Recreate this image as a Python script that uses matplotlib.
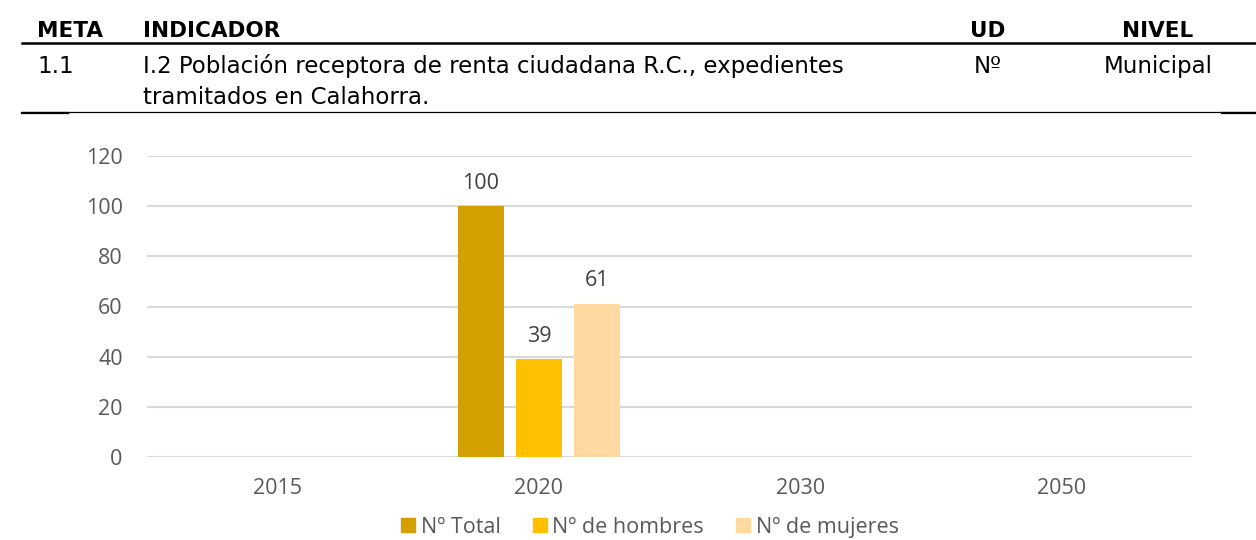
import matplotlib.pyplot as plt
from matplotlib.patches import Patch
import numpy as np

years = ["2015", "2020", "2030", "2050"]
series = ["Nº Total", "Nº de hombres", "Nº de mujeres"]
total = [np.nan, 100, np.nan, np.nan]
hombres = [np.nan, 39, np.nan, np.nan]
mujeres = [np.nan, 61, np.nan, np.nan]
colors = ["#D4A000", "#FFC000", "#FFD9A0"]

header = ["META", "INDICADOR", "UD", "NIVEL"]
row = ["1.1", "I.2 Población receptora de renta ciudadana R.C., expedientes\ntramitados en Calahorra.", "Nº", "Municipal"]

W, H = 1256, 540
fig = plt.figure(figsize=(W / 100, H / 100), dpi=100)

# header table, in pixel coords
def px(x, y):
    return x / W, 1 - y / H

hx = [37, 143, 988, 1158]
has = ["left", "left", "center", "center"]
for t, x, ha in zip(header, hx, has):
    fig.text(*px(x, 37), t, fontsize=15.5, fontweight="bold", ha=ha, va="baseline", color="black")
lines = row[1].split("\n")
fig.text(*px(37, 73), row[0], fontsize=16.5, ha="left", va="baseline")
fig.text(*px(143, 73), lines[0], fontsize=16.5, ha="left", va="baseline")
fig.text(*px(143, 104), lines[1], fontsize=16.5, ha="left", va="baseline")
fig.text(*px(988, 73), row[2], fontsize=16.5, ha="center", va="baseline")
fig.text(*px(1158, 73), row[3], fontsize=16.5, ha="center", va="baseline")

fig.add_artist(plt.Line2D([22 / W, 1], [1 - 43 / H] * 2, color="black", lw=1.8))
fig.add_artist(plt.Line2D([22 / W, 1], [1 - 112 / H] * 2, color="black", lw=0.9))
fig.add_artist(plt.Line2D([22 / W, 68 / W], [1 - 112.5 / H] * 2, color="black", lw=1.6))
fig.add_artist(plt.Line2D([1222 / W, 1], [1 - 112.5 / H] * 2, color="black", lw=1.6))

# chart
ax = fig.add_axes([147 / W, 1 - 457 / H, 1045 / W, 301 / H])
x = np.arange(len(years))
off = 0.222
width = 0.176
gray = "#595959"
for i, (vals, c) in enumerate(zip([total, hombres, mujeres], colors)):
    pos = x + (i - 1) * off
    ax.bar(pos, vals, width, color=c, zorder=3)
    for p, v in zip(pos, vals):
        if not np.isnan(v):
            ax.annotate(f"{v:.0f}", (p, v), xytext=(0, 9), textcoords="offset points",
                        ha="center", va="bottom", fontsize=15.5, color="#404040", family="Open Sans")

ax.set_xlim(-0.5, len(years) - 0.5)
ax.set_ylim(0, 120)
ax.set_yticks(range(0, 121, 20))
ax.set_xticks(x)
ax.set_xticklabels(years)
ax.yaxis.grid(True, color="#D9D9D9", lw=1.5, zorder=0)
for s in ax.spines.values():
    s.set_visible(False)
ax.tick_params(length=0, colors=gray, labelsize=15.5)
ax.tick_params(axis="y", pad=17.5)
ax.tick_params(axis="x", pad=15)
for lab in ax.get_xticklabels() + ax.get_yticklabels():
    lab.set_family("Open Sans")

handles = [Patch(color=c, label=s) for c, s in zip(colors, series)]
fig.legend(handles=handles, loc="center", bbox_to_anchor=(650 / W, 1 - 527 / H), ncol=3,
           frameon=False, prop={"family": "Open Sans", "size": 15.5}, labelcolor=gray,
           handlelength=0.65, handleheight=0.65, handletextpad=0.25, columnspacing=1.5)

fig.savefig("out.png", dpi=100)
